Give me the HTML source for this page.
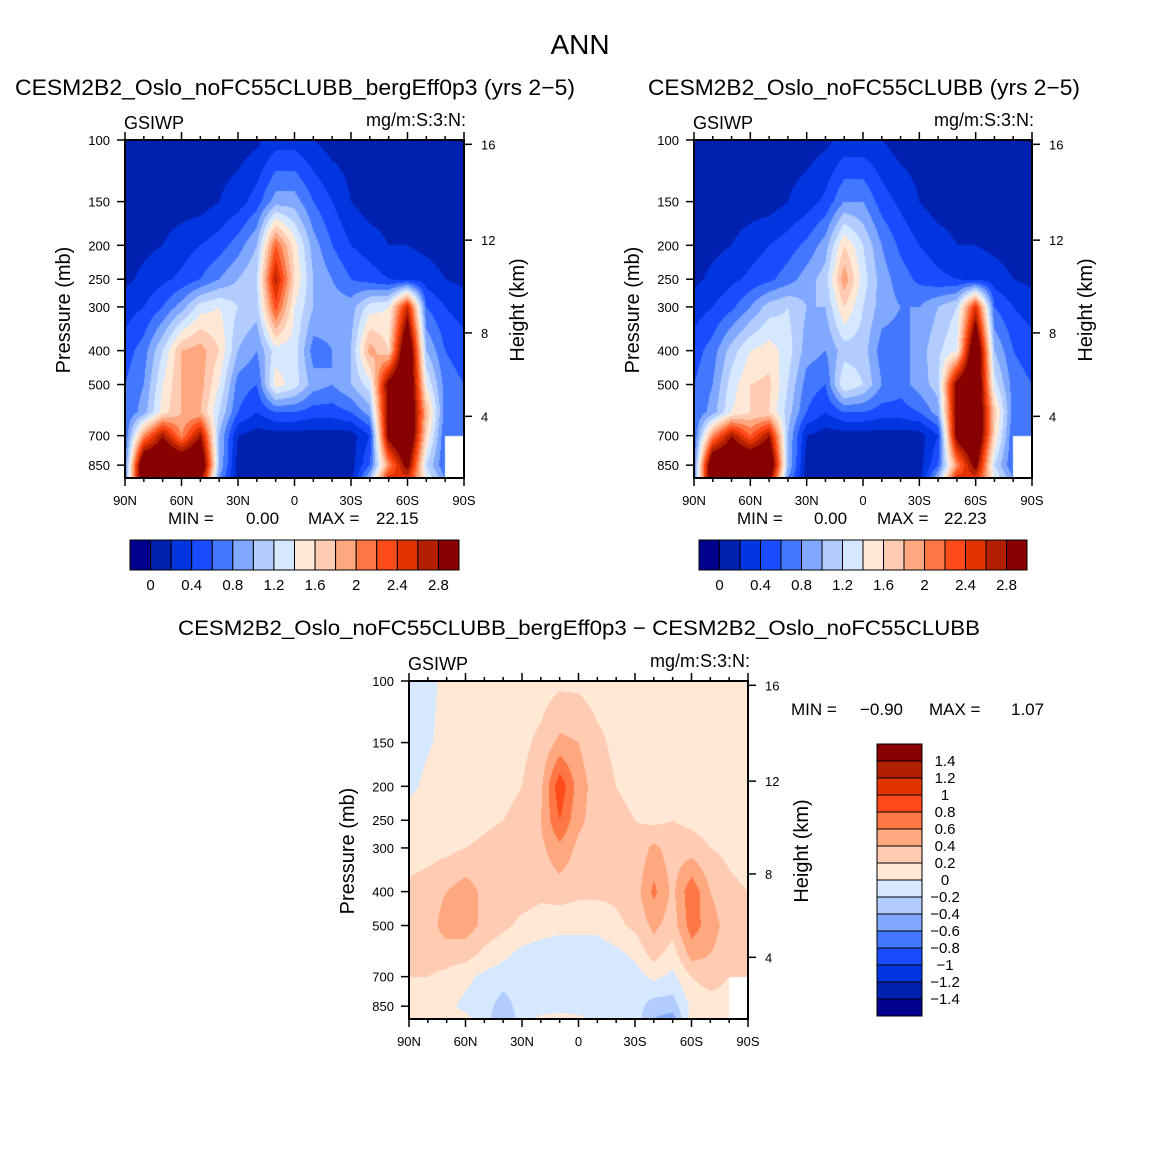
<!DOCTYPE html>
<html><head><meta charset="utf-8">
<style>
html,body{margin:0;padding:0;background:#fff;}
#wrap{position:relative;width:1158px;height:1158px;overflow:hidden;}
canvas{position:absolute;}
svg{position:absolute;left:0;top:0;}
text{font-family:"Liberation Sans",sans-serif;fill:#000;}
</style></head>
<body>
<div id="wrap">
<canvas id="c1" width="339" height="338" style="left:125px;top:140px"></canvas>
<canvas id="c2" width="338" height="338" style="left:694px;top:140px"></canvas>
<canvas id="c3" width="339" height="338" style="left:409px;top:681px"></canvas>
<svg id="svg" width="1158" height="1158">
<text x="580" y="54" font-size="28" text-anchor="middle">ANN</text>
<text x="15" y="95" font-size="22" textLength="560" lengthAdjust="spacingAndGlyphs">CESM2B2_Oslo_noFC55CLUBB_bergEff0p3 (yrs 2−5)</text>
<text x="648" y="95" font-size="22" textLength="432" lengthAdjust="spacingAndGlyphs">CESM2B2_Oslo_noFC55CLUBB (yrs 2−5)</text>
<text x="178" y="635" font-size="21" textLength="802" lengthAdjust="spacingAndGlyphs">CESM2B2_Oslo_noFC55CLUBB_bergEff0p3 − CESM2B2_Oslo_noFC55CLUBB</text>
<text x="168" y="524" font-size="17">MIN =</text>
<text x="246" y="524" font-size="17">0.00</text>
<text x="308" y="524" font-size="17">MAX =</text>
<text x="376" y="524" font-size="17">22.15</text>
<text x="737" y="524" font-size="17">MIN =</text>
<text x="814" y="524" font-size="17">0.00</text>
<text x="877" y="524" font-size="17">MAX =</text>
<text x="944" y="524" font-size="17">22.23</text>
<text x="791" y="715" font-size="17">MIN =</text>
<text x="860" y="715" font-size="17">−0.90</text>
<text x="929" y="715" font-size="17">MAX =</text>
<text x="1011" y="715" font-size="17">1.07</text>
</svg>
</div>
<script>
// ---- data ----
const lats = [90,80,70,60,50,40,30,20,10,0,-10,-20,-30,-40,-50,-60,-70,-80,-90];
const plevs = [100,150,200,250,300,400,500,600,700,850,925];
const N = null;
const fieldA = [
[.1,.1,.1,.1,.1,.1,.1,.15,.3,.3,.2,.1,.1,.1,.1,.1,.1,.1,.1],
[.1,.1,.1,.1,.1,.2,.3,.5,.9,.9,.6,.4,.2,.1,.1,.1,.1,.1,.1],
[.1,.15,.2,.3,.4,.5,.7,1.0,2.2,1.5,.9,.6,.4,.3,.2,.2,.15,.1,.1],
[.15,.25,.35,.45,.6,.8,1.0,1.2,2.7,1.6,1.0,.8,.6,.5,.4,.35,.3,.2,.15],
[.3,.4,.6,.9,1.3,1.4,1.2,1.1,2.3,1.4,1.0,.9,.9,1.3,1.4,2.6,.6,.4,.3],
[.5,.7,1.2,1.8,1.9,1.6,1.0,.8,1.3,1.3,.7,.8,1.0,1.9,1.6,3.5,1.0,.6,.5],
[.6,.8,1.4,1.8,1.9,1.4,.7,.6,1.5,1.3,.9,.8,1.0,1.3,3.0,3.5,1.4,.7,.6],
[.6,.9,1.5,1.8,1.8,1.2,.6,.4,.6,.6,.5,.5,.6,.9,3.0,3.5,1.8,.7,.6],
[.6,2.0,2.8,2.0,2.8,1.0,.2,.1,.1,.1,.1,.1,.1,.4,3.0,3.5,1.6,.6,.6],
[.7,3.5,3.5,3.5,3.5,1.0,.1,.1,.1,.1,.1,.1,.1,.6,2.0,3.0,1.2,.6,N],
[.7,3.5,3.5,3.5,3.0,.8,.1,.1,.1,.1,.1,.1,.1,1.0,2.5,2.5,1.4,.8,N]];
const fieldB = [
[.1,.1,.1,.1,.1,.1,.1,.15,.25,.25,.2,.1,.1,.1,.1,.1,.1,.1,.1],
[.1,.1,.1,.1,.1,.2,.3,.45,.8,.8,.5,.35,.2,.1,.1,.1,.1,.1,.1],
[.1,.15,.2,.3,.4,.5,.65,.9,1.6,1.2,.8,.55,.4,.3,.2,.2,.15,.1,.1],
[.15,.25,.35,.45,.55,.7,.9,1.1,1.95,1.3,.9,.7,.55,.45,.4,.35,.3,.2,.15],
[.3,.4,.55,.8,1.1,1.2,1.0,1.0,1.6,1.2,.9,.8,.8,1.0,1.2,2.5,.6,.4,.3],
[.5,.7,1.1,1.4,1.5,1.3,.9,.8,1.1,1.1,.7,.7,.9,1.15,1.4,3.5,1.0,.6,.5],
[.6,.8,1.3,1.6,1.65,1.2,.7,.6,1.4,1.2,.8,.7,.9,1.1,3.0,3.5,1.3,.7,.6],
[.6,.9,1.4,1.6,1.6,1.1,.6,.4,.6,.6,.5,.5,.6,.9,3.0,3.5,1.7,.7,.6],
[.6,2.0,2.8,2.2,2.8,1.0,.2,.1,.1,.1,.1,.1,.1,.4,3.0,3.5,1.6,.6,.6],
[.7,3.5,3.5,3.5,3.5,1.0,.1,.1,.1,.1,.1,.1,.1,.6,2.0,3.0,1.2,.6,N],
[.7,3.5,3.5,3.5,3.0,.8,.1,.1,.1,.1,.1,.1,.1,1.0,2.5,2.5,1.4,.8,N]];
const fieldC = [
[-.1,-.05,.05,.1,.1,.1,.1,.1,.15,.15,.1,.1,.1,.1,.1,.1,.1,.1,.1],
[-.1,-.02,.05,.1,.1,.1,.15,.25,.45,.4,.25,.15,.1,.1,.1,.1,.1,.1,.1],
[-.05,.05,.1,.1,.1,.15,.2,.35,.95,.5,.3,.2,.15,.1,.1,.1,.1,.1,.1],
[.1,.1,.1,.1,.15,.2,.25,.4,.8,.45,.3,.25,.2,.15,.2,.15,.1,.1,.1],
[.1,.12,.15,.2,.25,.3,.3,.35,.55,.35,.3,.25,.25,.45,.3,.3,.2,.15,.1],
[.25,.3,.4,.5,.35,.3,.3,.25,.3,.25,.25,.25,.3,.65,.35,.75,.4,.25,.2],
[.3,.3,.5,.5,.35,.25,.15,.1,.05,.05,.05,.15,.25,.45,.3,.7,.5,.3,.25],
[.3,.3,.3,.3,.15,.05,-.05,-.1,-.1,-.1,-.1,-.05,.05,.3,.1,.5,.4,.3,.2],
[.2,.2,.15,.05,-.05,-.1,-.1,-.1,-.1,-.1,-.1,-.1,-.1,.05,-.05,.2,.3,.2,.2],
[.1,.1,.05,-.05,-.1,-.3,-.1,-.1,-.05,-.1,-.1,-.1,-.1,-.3,-.3,.05,.1,.1,N],
[.1,.15,.1,.05,-.1,-.4,-.1,.05,.05,.05,-.05,-.1,-.1,-.4,-.5,.1,.1,.1,N]];
const levelsAbs = [0,0.2,0.4,0.6,0.8,1.0,1.2,1.4,1.6,1.8,2.0,2.2,2.4,2.6,2.8];
const levelsDiff = [-1.4,-1.2,-1.0,-0.8,-0.6,-0.4,-0.2,0,0.2,0.4,0.6,0.8,1.0,1.2,1.4];
const absLabels = ["0","0.4","0.8","1.2","1.6","2","2.4","2.8"];
const diffLabels = ["1.4","1.2","1","0.8","0.6","0.4","0.2","0","−0.2","−0.4","−0.6","−0.8","−1","−1.2","−1.4"];
const pTicks = [100,150,200,250,300,400,500,700,850];
const hTicks = [16,12,8,4];
const latTicks = [90,60,30,0,-30,-60,-90];
const latTickLabels = ["90N","60N","30N","0","30S","60S","90S"];
const colors = ["#00008c","#0020b0","#0035e0","#1a4cff","#4477ff","#80a8ff","#b3ccff","#d6e8ff","#ffe8d6","#ffccb3","#ffa880","#ff7744","#ff4a1a","#e03300","#b32000","#880000"];

// ---- helpers ----
const NS = "http://www.w3.org/2000/svg";
const svg = document.getElementById("svg");
const PMAX = 925;
function yOfP(p, top, H){ return top + H*Math.log(p/100)/Math.log(PMAX/100); }
function xOfLat(lat, left, W){ return left + W*(90-lat)/180; }
function pOfZ(km){ const z=km*1000; return z<=11000 ? 1013.25*Math.pow(1-2.25577e-5*z,5.25588) : 226.32*Math.exp(-(z-11000)/6341.6); }
function colorIndex(v, levels){ let k=0; for(const l of levels){ if(v>=l) k++; } return k; }
function mk(tag, attrs){ const e=document.createElementNS(NS,tag); for(const k in attrs) e.setAttribute(k,attrs[k]); svg.appendChild(e); return e; }

function drawField(id, field, levels){
  const cv=document.getElementById(id), ctx=cv.getContext("2d");
  const W=cv.width,H=cv.height, img=ctx.createImageData(W,H);
  const lnP=plevs.map(p=>Math.log(p));
  const rgb=colors.map(c=>[parseInt(c.slice(1,3),16),parseInt(c.slice(3,5),16),parseInt(c.slice(5,7),16)]);
  for(let y=0;y<H;y++){
    const lp=Math.log(100)+(y+0.5)/H*Math.log(PMAX/100);
    let i=0; while(i<plevs.length-2 && lp>lnP[i+1]) i++;
    const ty=Math.min(1,Math.max(0,(lp-lnP[i])/(lnP[i+1]-lnP[i])));
    for(let x=0;x<W;x++){
      const lat=90-180*(x+0.5)/W;
      let j=Math.min(lats.length-2,Math.floor((90-lat)/10));
      const tx=((90-lat)-j*10)/10;
      const a=field[i][j],b=field[i][j+1],c=field[i+1][j],d=field[i+1][j+1];
      const o=(y*W+x)*4;
      if(a===null||b===null||c===null||d===null){ img.data[o]=255;img.data[o+1]=255;img.data[o+2]=255;img.data[o+3]=255; continue; }
      const v=(a*(1-tx)+b*tx)*(1-ty)+(c*(1-tx)+d*tx)*ty;
      const col=rgb[colorIndex(v,levels)];
      img.data[o]=col[0];img.data[o+1]=col[1];img.data[o+2]=col[2];img.data[o+3]=255;
    }
  }
  ctx.putImageData(img,0,0);
}

function drawAxes(left, top, W, H, tag){
  for(let lat=90; lat>=-90; lat-=10){
    const x=xOfLat(lat,left,W), len=(lat%30===0)?8:4;
    const t1=mk("line",{x1:x,y1:top,x2:x,y2:top-len,stroke:"#000","stroke-width":1.5});
    
    
    const t2=mk("line",{x1:x,y1:top+H,x2:x,y2:top+H+len,stroke:"#000","stroke-width":1.5});
    
    
  }
  latTicks.forEach((lat,k)=>{
    const t=mk("text",{x:xOfLat(lat,left,W),y:top+H+27,"font-size":13,"text-anchor":"middle"});
    t.textContent=latTickLabels[k];
    
    
  });
  pTicks.forEach(p=>{
    const y=yOfP(p,top,H);
    const l=mk("line",{x1:left,y1:y,x2:left-8,y2:y,stroke:"#000","stroke-width":1.5});
    
    
    const t=mk("text",{x:left-15,y:y+5,"font-size":13,"text-anchor":"end"});
    t.textContent=String(p);
    
    
  });
  hTicks.forEach(h=>{
    const y=yOfP(pOfZ(h),top,H);
    const l=mk("line",{x1:left+W,y1:y,x2:left+W+8,y2:y,stroke:"#000","stroke-width":1.5});
    
    
    const t=mk("text",{x:left+W+17,y:y+5,"font-size":13});
    t.textContent=String(h);
    
    
  });
  const fr=mk("rect",{x:left,y:top,width:W,height:H,fill:"none",stroke:"#000","stroke-width":2});
  
  
  const g=mk("text",{x:left-1,y:top-11,"font-size":18});
  g.textContent="GSIWP";
  
  
  const u=mk("text",{x:left+W+2,y:top-14,"font-size":18,"text-anchor":"end"});
  u.textContent="mg/m:S:3:N:";
  
  
  const yl=mk("text",{x:0,y:0,"font-size":20,"text-anchor":"middle",transform:`translate(${left-55},${top+170}) rotate(-90)`});
  yl.textContent="Pressure (mb)";
  
  
  const hl=mk("text",{x:0,y:0,"font-size":20,"text-anchor":"middle",transform:`translate(${left+W+60},${top+170}) rotate(-90)`});
  hl.textContent="Height (km)";
  
  
}

function hColorbar(left, top, w, h){
  const bw=w/colors.length;
  colors.forEach((c,k)=>{
    const r=mk("rect",{x:left+k*bw,y:top,width:bw,height:h,fill:c,stroke:"#000","stroke-width":1});
    
    
  });
  absLabels.forEach((s,k)=>{
    const t=mk("text",{x:left+(1+2*k)*bw,y:top+h+20,"font-size":15,"text-anchor":"middle"});
    t.textContent=s;
    
    
  });
}
function vColorbar(left, top, w, h){
  const bh=h/colors.length;
  colors.slice().reverse().forEach((c,k)=>{
    const r=mk("rect",{x:left,y:top+k*bh,width:w,height:bh,fill:c,stroke:"#000","stroke-width":1});
    
    
  });
  diffLabels.forEach((s,k)=>{
    const t=mk("text",{x:left+w+23,y:top+(k+1)*bh+5,"font-size":15,"text-anchor":"middle"});
    t.textContent=s;
    
    
  });
}

drawField("c1", fieldA, levelsAbs);
drawField("c2", fieldB, levelsAbs);
drawField("c3", fieldC, levelsDiff);
drawAxes(125,140,339,338,"bergeff");
drawAxes(694,140,338,338,"control");
drawAxes(409,681,339,338,"difference");
hColorbar(130,540,329,30);
hColorbar(699,540,328,30);
vColorbar(877,744,45,272);
</script>
</body></html>
